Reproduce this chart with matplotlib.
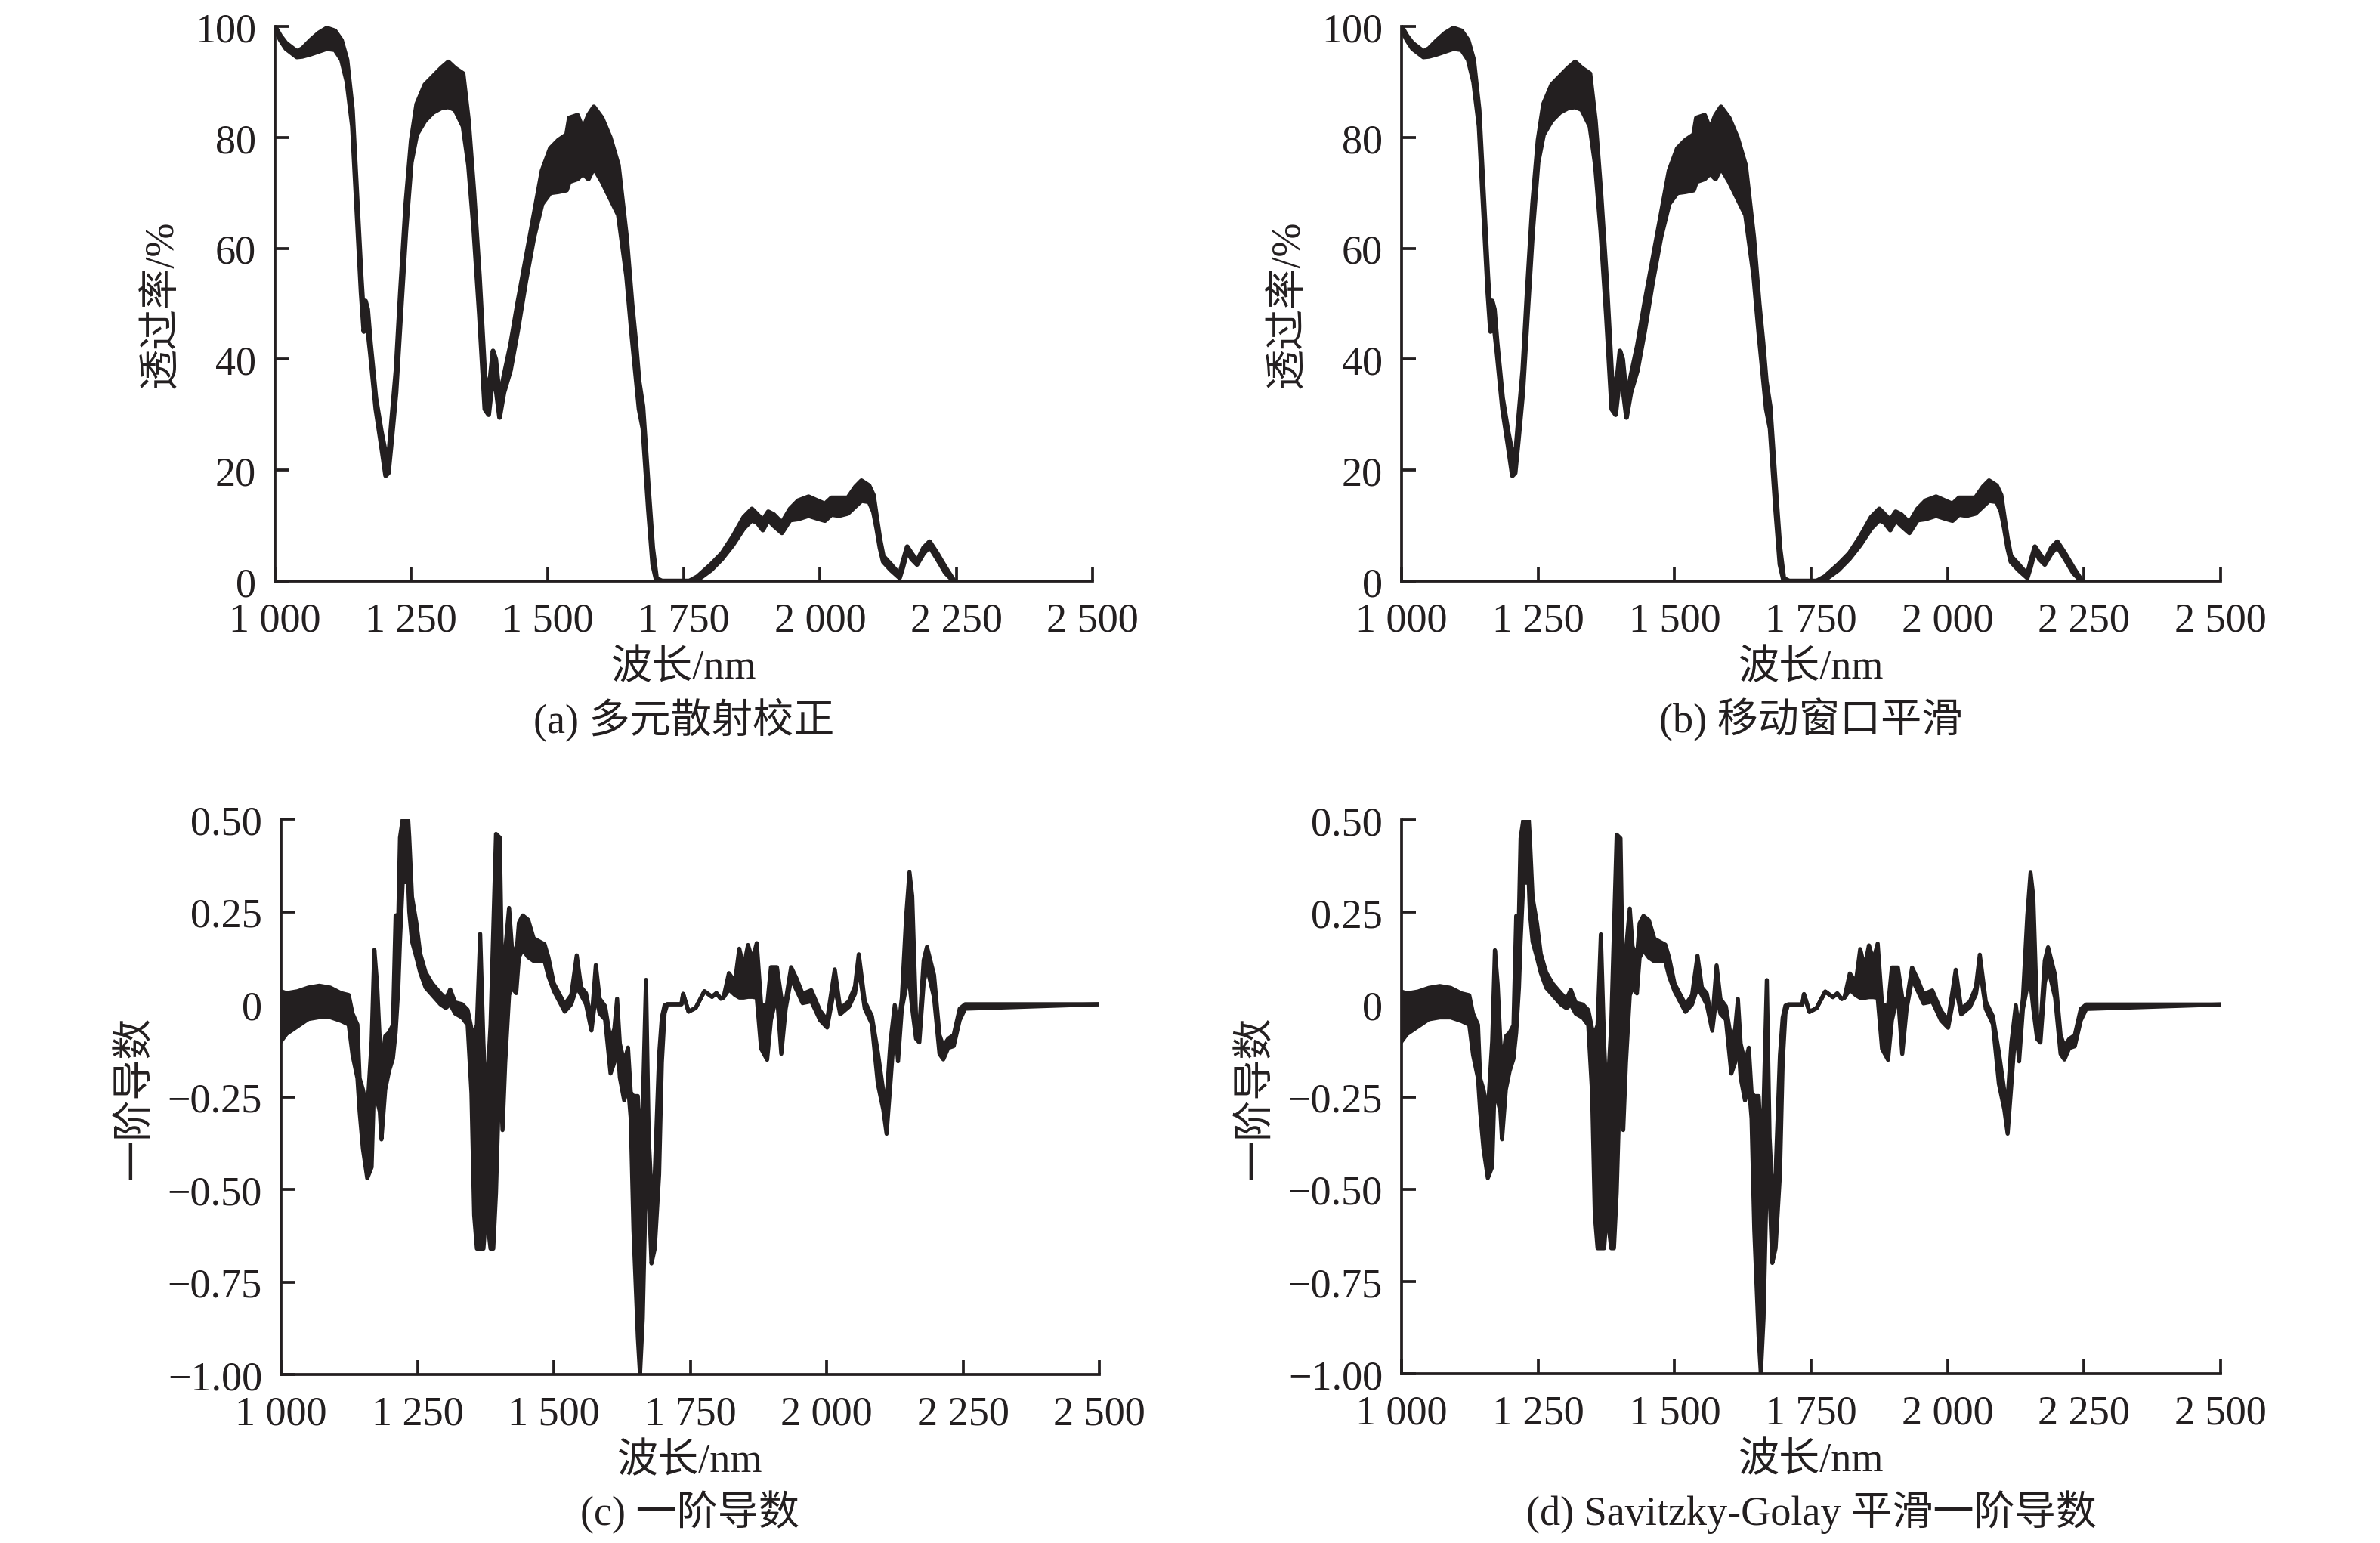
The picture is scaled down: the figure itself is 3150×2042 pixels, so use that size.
import numpy as np
import matplotlib
matplotlib.use("Agg")
import matplotlib.pyplot as plt

plt.rcParams['font.family'] = ['Liberation Serif', 'Noto Sans CJK SC', 'DejaVu Sans']
plt.rcParams['axes.unicode_minus'] = True

INK = '#231f20'

# 透过率光谱（多条光谱的上下包络）
spec_wl = [1000, 1010, 1020, 1040, 1050, 1065, 1080, 1095, 1110, 1122, 1132, 1142, 1150,
           1158, 1163, 1166, 1170, 1175, 1185, 1195, 1203, 1208, 1214, 1222, 1230, 1240,
           1250, 1260, 1275, 1290, 1305, 1318, 1330, 1345, 1355, 1365, 1375, 1385, 1392,
           1400, 1405, 1412, 1420, 1432, 1445, 1460, 1475, 1490, 1505, 1520, 1535, 1540,
           1555, 1565, 1575, 1585, 1600, 1615, 1630, 1645, 1655, 1662, 1668, 1675, 1685,
           1693, 1700, 1710, 1760, 1775, 1800, 1820, 1840, 1860, 1875, 1885, 1895, 1905,
           1915, 1930, 1945, 1960, 1979, 1995, 2009, 2021, 2035, 2051, 2065, 2076, 2090,
           2098, 2104, 2110, 2116, 2130, 2146, 2152, 2160, 2168, 2178, 2190, 2201, 2215,
           2230, 2245]
spec_hi = [100, 98.3, 97, 95.5, 96, 97.5, 98.8, 99.7, 99.2, 97.5, 94, 85, 70,
           55, 47, 50.5, 49, 43, 33, 27, 23, 22, 29, 38, 52, 68,
           79.5, 86, 89.5, 91, 92.5, 93.6, 92.5, 91.5, 83, 70, 55, 37, 34,
           41.5, 40, 33, 37, 42.5, 50, 58, 66, 74, 78, 79.5, 80.5, 83.5,
           84, 81.5, 84, 85.5, 83.5, 80, 75, 62, 50, 43, 36, 31.5, 17,
           6, 0.5, 0, 0, 0.8, 3, 5, 8, 11.5, 13, 12, 11, 12.5,
           12, 10.5, 13, 14.5, 15.2, 14.5, 13.9, 15, 15, 15, 17, 18.1, 17.2,
           15.5, 11.4, 7.5, 4.5, 3, 1.2, 3.5, 6.2, 5, 3.6, 6, 7.1, 5,
           2.5, 0.2]
spec_lo = [99.5, 97.5, 96, 94.5, 94.6, 95, 95.5, 96, 95.8, 94, 90, 82, 67,
           52, 45, 47, 45.5, 41, 31, 24.5, 19, 19.5, 25.5, 34, 47, 63,
           75.5, 80.5, 83, 84.5, 85.3, 85.5, 85, 82, 75, 63, 48, 31, 30,
           37, 35, 29.5, 34, 38, 45, 54, 62, 68, 70, 70.2, 70.5, 72,
           72.5, 73.5, 72.5, 74.5, 72, 69, 66, 55, 44, 37, 31, 27.5, 13,
           3, 0, 0, 0, 0.2, 2, 4, 6.5, 9.5, 11, 10.5, 9.2, 11,
           10, 8.7, 11, 11.2, 11.8, 11.3, 10.9, 12, 11.8, 12.2, 13.5, 14.5, 14.3,
           12.5, 9.5, 6, 3.5, 2, 0.6, 2.5, 5.5, 4, 3, 5, 6.2, 4,
           1.5, 0]

# 一阶导数（上下包络）
deriv_wl = [1000, 1010, 1030, 1050, 1070, 1090, 1110, 1124, 1131, 1140, 1144, 1150, 1158,
            1166, 1171, 1176, 1181, 1184, 1191, 1198, 1205, 1210, 1215, 1218, 1223, 1233,
            1235, 1240, 1248, 1255, 1265, 1277, 1292, 1302, 1310, 1319, 1332, 1342, 1349,
            1354, 1359, 1365, 1371, 1376, 1384, 1389, 1394, 1401, 1406, 1411, 1418, 1423,
            1431, 1436, 1443, 1453, 1463, 1483, 1490, 1500, 1520, 1532, 1542, 1550, 1559,
            1569, 1577, 1584, 1594, 1604, 1611, 1616, 1621, 1629, 1636, 1641, 1646, 1654,
            1658, 1663, 1669, 1674, 1679, 1685, 1693, 1698, 1703, 1708, 1734, 1737, 1747,
            1760, 1776, 1790, 1798, 1806, 1811, 1821, 1832, 1840, 1848, 1856, 1864, 1872,
            1880, 1891, 1898, 1909, 1917, 1925, 1935, 1945, 1956, 1972, 1988, 2001, 2015,
            2025, 2041, 2052, 2059, 2070, 2083, 2094, 2104, 2110, 2117, 2125, 2131, 2138,
            2146, 2152, 2157, 2164, 2170, 2178, 2184, 2197, 2207, 2214, 2223, 2233, 2244,
            2254, 2500]
deriv_hi = [0.035, 0.03, 0.035, 0.045, 0.05, 0.045, 0.03, 0.025, -0.025, -0.055, -0.2, -0.23, -0.29,
            -0.1, 0.147, 0.055, -0.1, -0.17, -0.086, -0.076, -0.056, 0.24, 0.24, 0.45, 0.5, 0.5,
            0.45, 0.29, 0.22, 0.137, 0.086, 0.056, 0.03, 0.015, 0.04, 0.005, 0.0, -0.015, -0.066,
            -0.076, -0.056, 0.19, -0.106, -0.27, -0.056, 0.2, 0.46, 0.45, 0.005, 0.147, 0.26, 0.157,
            0.127, 0.22, 0.24, 0.228, 0.178, 0.162, 0.127, 0.056, 0.0, 0.025, 0.132, 0.046, 0.03,
            -0.046, 0.106, 0.015, -0.005, -0.096, -0.066, 0.015, -0.106, -0.157, -0.117, -0.238, -0.248, -0.248,
            -0.36, -0.279, 0.066, -0.36, -0.51, -0.46, -0.137, -0.036, -0.003, 0.0, 0.0, 0.028, -0.02,
            -0.01, 0.035, 0.02, 0.03, 0.015, 0.018, 0.084, 0.06, 0.15, 0.1, 0.16, 0.12, 0.165,
            0.0, -0.005, 0.1, 0.1, 0.018, 0.008, 0.1, 0.069, 0.028, 0.038, -0.017, -0.043, 0.094,
            -0.012, 0.008, 0.048, 0.135, 0.008, -0.032, -0.13, -0.235, -0.255, -0.103, -0.002, -0.073, 0.018,
            0.24, 0.357, 0.292, -0.032, -0.063, 0.119, 0.155, 0.079, -0.083, -0.113, -0.093, -0.083, -0.012,
            0.0, 0.0]
deriv_lo = [-0.10, -0.08, -0.06, -0.04, -0.035, -0.035, -0.045, -0.055, -0.137, -0.2, -0.29, -0.39, -0.47,
            -0.44, -0.19, -0.26, -0.29, -0.365, -0.23, -0.18, -0.147, -0.076, 0.045, 0.17, 0.33, 0.33,
            0.25, 0.17, 0.127, 0.086, 0.045, 0.025, 0.0, -0.01, 0.0, -0.025, -0.036, -0.056, -0.24,
            -0.57, -0.66, -0.66, -0.66, -0.56, -0.66, -0.66, -0.51, -0.16, -0.34, -0.157, 0.025, 0.045,
            0.03, 0.127, 0.147, 0.127, 0.117, 0.117, 0.076, 0.036, -0.02, 0.0, 0.046, 0.025, 0.0,
            -0.071, 0.025, -0.025, -0.041, -0.187, -0.157, -0.086, -0.198, -0.26, -0.218, -0.309, -0.61, -0.9,
            -1.0, -0.85, -0.46, -0.51, -0.70, -0.66, -0.46, -0.157, -0.025, 0.0, 0.0, 0.028, -0.02,
            -0.01, 0.035, 0.02, 0.03, 0.015, 0.018, 0.04, 0.025, 0.018, 0.018, 0.02, 0.02, 0.018,
            -0.12, -0.15, -0.043, 0.028, -0.134, -0.012, 0.069, 0.038, 0.003, 0.008, -0.043, -0.063, 0.048,
            -0.027, -0.007, 0.028, 0.1, -0.012, -0.053, -0.215, -0.285, -0.35, -0.214, -0.053, -0.154, -0.012,
            0.048, 0.058, -0.012, -0.093, -0.103, 0.058, 0.1, 0.018, -0.134, -0.149, -0.118, -0.113, -0.043,
            -0.012, 0.0]

trans_ticks = [0, 20, 40, 60, 80, 100]
trans_labels = ['0', '20', '40', '60', '80', '100']
deriv_ticks = [0.5, 0.25, 0, -0.25, -0.5, -0.75, -1.0]
deriv_labels = ['0.50', '0.25', '0', '\u22120.25', '\u22120.50', '\u22120.75', '\u22121.00']
wl_ticks = [1000, 1250, 1500, 1750, 2000, 2250, 2500]
wl_labels = ['1 000', '1 250', '1 500', '1 750', '2 000', '2 250', '2 500']

captions = ['(a) 多元散射校正', '(b) 移动窗口平滑', '(c) 一阶导数', '(d) Savitzky-Golay 平滑一阶导数']

W, H = 3150, 2043
fig = plt.figure(figsize=(W / 300, H / 300), dpi=300)
FS = 13

# 各子图位置（像素）：left, right, top, bottom
boxes = [(364, 1446, 36, 770), (1855, 2939, 36, 770),
         (372, 1455, 1085, 1820), (1855, 2939, 1086, 1819)]


def style_axes(ax):
    ax.spines['top'].set_visible(False)
    ax.spines['right'].set_visible(False)
    for s in ('left', 'bottom'):
        ax.spines[s].set_linewidth(0.9)
        ax.spines[s].set_color(INK)
    ax.tick_params(direction='in', length=4.5, width=0.9, color=INK,
                   labelsize=FS, labelcolor=INK)
    ax.tick_params(axis='x', pad=6.5)
    ax.tick_params(axis='y', pad=6)
    ax.set_xlim(1000, 2500)
    ax.set_xticks(wl_ticks)
    ax.set_xticklabels(wl_labels)


for i, (l, r, t, b) in enumerate(boxes):
    ax = fig.add_axes([l / W, 1 - b / H, (r - l) / W, (b - t) / H])
    style_axes(ax)
    if i < 2:
        ax.fill_between(spec_wl, spec_lo, spec_hi, color=INK, lw=0)
        ax.plot(spec_wl, spec_hi, color=INK, lw=1.5, solid_joinstyle='round')
        ax.plot(spec_wl, spec_lo, color=INK, lw=1.5, solid_joinstyle='round')
        ax.set_ylim(0, 100)
        ax.set_yticks(trans_ticks)
        ax.set_yticklabels(trans_labels)
        ylab = '透过率/%'
        ylab_x = l - 150
    else:
        ax.fill_between(deriv_wl, deriv_lo, deriv_hi, color=INK, lw=0)
        ax.plot(deriv_wl, deriv_hi, color=INK, lw=1.3, solid_joinstyle='round')
        ax.plot(deriv_wl, deriv_lo, color=INK, lw=1.3, solid_joinstyle='round')
        ax.set_ylim(-1.0, 0.5)
        ax.set_yticks(deriv_ticks)
        ax.set_yticklabels(deriv_labels)
        ylab = '一阶导数'
        ylab_x = l - 192
    cx = (l + r) / 2 / W
    fig.text(ylab_x / W, 1 - (t + b) / 2 / H, ylab, rotation=90,
             ha='center', va='center', fontsize=FS, color=INK)
    fig.text(cx, 1 - (b + 115) / H, '波长/nm', ha='center', va='center',
             fontsize=FS, color=INK)
    fig.text(cx, 1 - (b + 182) / H, captions[i], ha='center', va='center',
             fontsize=FS, color=INK)

fig.savefig('out.png', dpi=300, facecolor='white')
